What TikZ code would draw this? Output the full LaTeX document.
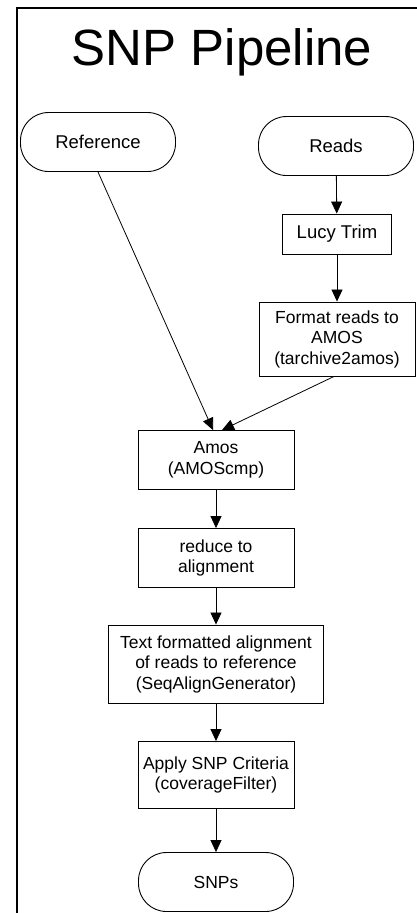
\documentclass[tikz,border=0pt]{standalone}
\usepackage{fontspec}
\setmainfont{Liberation Sans}
\usetikzlibrary{arrows.meta}
\begin{document}
\begin{tikzpicture}[x=1pt,y=-1pt,
  box/.style={draw, line width=0.9pt, rectangle, align=center, inner sep=0pt,
    font=\fontsize{17.5}{20.5}\selectfont},
  term/.style={box, rounded corners=28pt, minimum width=155pt, minimum height=59pt},
  arr/.style={line width=0.8pt, -{Triangle[length=12pt,width=11pt]}},
  big/.style={font=\fontsize{18.5}{20.5}\selectfont}
]
\useasboundingbox (0,0) rectangle (417,913);
\fill[white] (0,0) rectangle (417,913);
\draw[line width=1.4pt] (17,913) -- (17,8) -- (417,8);
\node[anchor=base, font=\fontsize{51}{51}\selectfont] (title) at (222,65) {SNP Pipeline};

\node[term, big] (ref) at (98,142) {Reference};
\node[term, big] (reads) at (336,146) {Reads};
\node[box, big, minimum width=109pt, minimum height=40pt] (lucy) at (337,234) {Lucy Trim};
\node[box, minimum width=156pt, minimum height=74pt] (fmt) at (337,339) {Format reads to\\AMOS\\(tarchive2amos)};
\node[box, minimum width=156pt, minimum height=59pt] (amos) at (216,460) {Amos\\(AMOScmp)};
\node[box, minimum width=156pt, minimum height=59pt] (red) at (216,558) {reduce to\\alignment};
\node[box, minimum width=215pt, minimum height=78pt] (txt) at (216,664) {Text formatted alignment\\of reads to reference\\(SeqAlignGenerator)};
\node[box, minimum width=156pt, minimum height=67pt] (snpc) at (216,775) {Apply SNP Criteria\\(coverageFilter)};
\node[term] (snps) at (216,882) {SNPs};

\draw[arr] (reads) -- (lucy);
\draw[arr] (lucy) -- (fmt);
\draw[arr] (ref.south) -- ([xshift=-3pt]amos.north);
\draw[arr] ([xshift=-3pt]fmt.south) -- ([xshift=6pt]amos.north);
\draw[arr] (amos) -- (red);
\draw[arr] (red) -- (txt);
\draw[arr] (txt) -- (snpc);
\draw[arr] (snpc) -- (snps);
\end{tikzpicture}
\end{document}
